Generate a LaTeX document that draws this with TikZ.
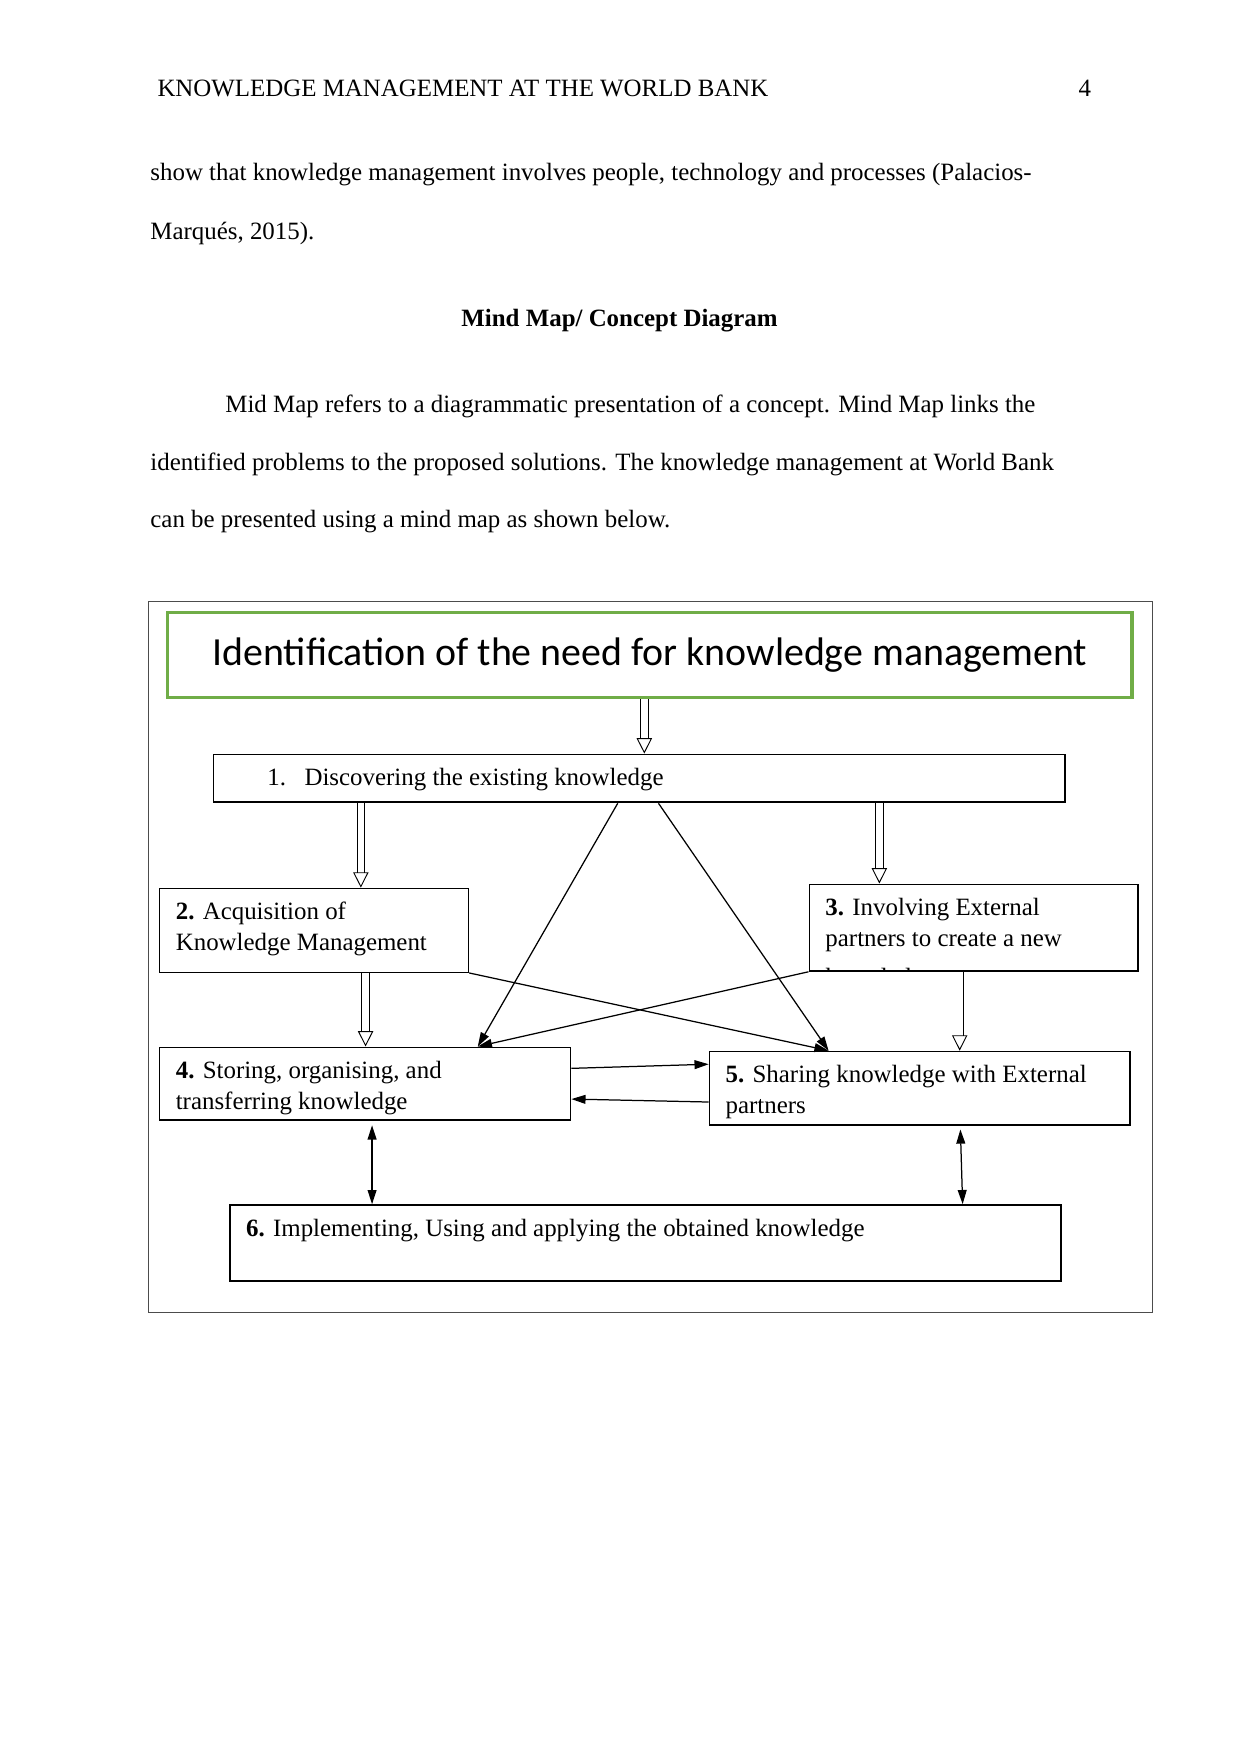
\documentclass[tikz,border=0pt]{standalone}
\usepackage{fontspec}
\setmainfont{Liberation Serif}
\newfontfamily\calibri{Carlito}
\usetikzlibrary{arrows.meta}

\definecolor{kmgreen}{HTML}{70AD47}

\begin{document}
\begin{tikzpicture}[
  every node/.style={font=\fontsize{12}{14.9}\selectfont},
  line/.style={anchor=base west, inner sep=0pt},
  kmbox/.style={rectangle, draw, line width=0.7pt, anchor=north west, inner sep=0pt},
  boxtext/.style={anchor=north west, inner sep=0pt, align=left},
  hollowarr/.style={double, double distance=1.1mm, line width=0.45pt, -{Triangle[open, length=2.6mm, width=2.6mm]}},
  linkarr/.style={line width=0.6pt, -{Triangle[length=2.4mm, width=1.5mm]}},
  bothway/.style={line width=0.6pt, {Triangle[length=2.4mm, width=1.5mm]}-{Triangle[length=2.4mm, width=1.5mm]}},
]
\useasboundingbox (0,0) rectangle (21,-29.7);

% page text
\node[line] (hdr) at (2.66,-1.64) {KNOWLEDGE MANAGEMENT AT THE WORLD BANK};
\node[anchor=base east, inner sep=0pt] (pg) at (18.48,-1.64) {4};
\node[line] (p1a) at (2.54,-3.06) {show that knowledge management involves people, technology and processes (Palacios-};
\node[line] (p1b) at (2.54,-4.06) {Marqués, 2015).};
\node[anchor=base, inner sep=0pt] (mmh) at (10.49,-5.52) {\bfseries Mind Map/ Concept Diagram};
\node[line] (p2a) at (3.81,-6.99) {Mid Map refers to a diagrammatic presentation of a concept. Mind Map links the};
\node[line] (p2b) at (2.54,-7.97) {identified problems to the proposed solutions. The knowledge management at World Bank};
\node[line] (p2c) at (2.54,-8.93) {can be presented using a mind map as shown below.};

% frame
\draw[gray!60!black, line width=0.5pt] (2.52,-10.19) rectangle (19.51,-22.22);

% boxes
\node[kmbox, draw=kmgreen, line width=1.6pt, minimum width=16.33cm, minimum height=1.44cm,
  font=\calibri\fontsize{19.2}{23}\selectfont] (need) at (2.81,-10.34) {Identification of the need for knowledge management};
\node[kmbox, line width=0.9pt, minimum width=14.42cm, minimum height=0.81cm] (b1) at (3.60,-12.76) {};
\node[kmbox, minimum width=5.23cm, minimum height=1.42cm] (b2) at (2.69,-15.03) {};
\node[kmbox, minimum width=5.57cm, minimum height=1.47cm] (b3) at (13.69,-14.96) {};
\node[kmbox, minimum width=6.96cm, minimum height=1.23cm] (b4) at (2.69,-17.72) {};
\node[kmbox, minimum width=7.12cm, minimum height=1.25cm] (b5) at (12.00,-17.79) {};
\node[kmbox, minimum width=14.07cm, minimum height=1.29cm] (b6) at (3.88,-20.39) {};

% box texts
\node[boxtext] (t1) at ([xshift=0.92cm, yshift=-0.24cm]b1.north west) {\makebox[0.63cm][l]{1.}Discovering the existing knowledge};
\node[boxtext] (t2) at ([xshift=0.28cm, yshift=-0.24cm]b2.north west) {\textbf{2.} Acquisition of\\Knowledge Management};
\begin{scope}
  \clip ([yshift=0.03cm]b3.south west) rectangle (b3.north east);
  \node[boxtext] (t3) at ([xshift=0.28cm, yshift=-0.24cm]b3.north west) {\textbf{3.} Involving External\\partners to create a new\\[4pt]knowledge management};
\end{scope}
\node[boxtext] (t4) at ([xshift=0.28cm, yshift=-0.24cm]b4.north west) {\textbf{4.} Storing, organising, and\\transferring knowledge};
\node[boxtext] (t5) at ([xshift=0.28cm, yshift=-0.24cm]b5.north west) {\textbf{5.} Sharing knowledge with External\\partners};
\node[boxtext] (t6) at ([xshift=0.28cm, yshift=-0.24cm]b6.north west) {\textbf{6.} Implementing, Using and applying the obtained knowledge};

% hollow arrows
\draw[hollowarr] (need.south -| 10.91,0) -- (b1.north -| 10.91,0);
\draw[hollowarr] (b1.south -| 6.11,0) -- (b2.north -| 6.11,0);
\draw[hollowarr] (b1.south -| 14.89,0) -- (b3.north -| 14.89,0);
\draw[hollowarr] (b2.south -| 6.19,0) -- (b4.north -| 6.19,0);
\draw[hollowarr] (b3.south -| 16.25,0) -- (b5.north -| 16.25,0);

% links
\draw[linkarr] (b1.south -| 10.46,0) -- (b4.north -| 8.09,0);
\draw[linkarr] (b1.south -| 11.15,0) -- (b5.north -| 14.03,0);
\draw[linkarr] (b2.south east) -- (b5.north -| 14.03,0);
\draw[linkarr] (b3.south west) -- (b4.north -| 8.09,0);
\draw[linkarr] (b4.east |- 0,-18.09) -- (b5.west |- 0,-18.02);
\draw[linkarr] (b5.west |- 0,-18.66) -- (b4.east |- 0,-18.61);
\draw[bothway, shorten <=0.08cm] (b4.south -| 6.30,0) -- (b6.north -| 6.30,0);
\draw[bothway, shorten <=0.06cm] (b5.south -| 16.26,0) -- (b6.north -| 16.30,0);

\end{tikzpicture}
\end{document}
